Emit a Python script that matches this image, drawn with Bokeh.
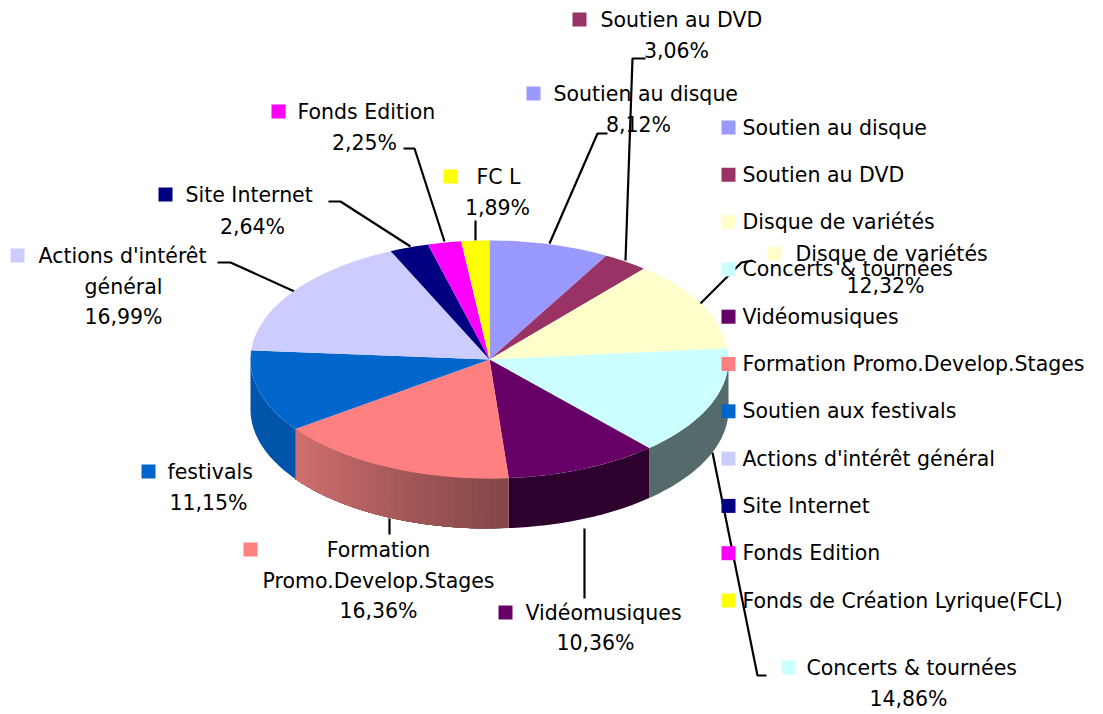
import math
from bokeh.plotting import figure
from bokeh.embed import file_html
from bokeh.resources import INLINE
from bokeh.core.properties import value

# ---- data ----
categories = ["Soutien au disque", "Soutien au DVD", "Disque de variétés", "Concerts & tournées",
              "Vidéomusiques", "Formation Promo.Develop.Stages", "Soutien aux festivals",
              "Actions d'intérêt général", "Site Internet", "Fonds Edition",
              "Fonds de Création Lyrique(FCL)"]
values = [8.12, 3.06, 12.32, 14.86, 10.36, 16.36, 11.15, 16.99, 2.64, 2.25, 1.89]
colors = ["#9999FF", "#993366", "#FFFFCC", "#CCFFFF", "#660066", "#FF8080", "#0066CC",
          "#CCCCFF", "#000080", "#FF00FF", "#FFFF00"]
side_left = ["#737399", "#732650", "#999980", "#556B6B", "#2E002E", "#D27070", "#0055AB",
             "#9999BF", "#000060", "#BF00BF", "#BFBF00"]
side_right = list(side_left)
side_right[5] = "#824646"
data_names = [["Soutien au disque"], ["Soutien au DVD"], ["Disque de variétés"], ["Concerts & tournées"],
              ["Vidéomusiques"], ["Formation", "Promo.Develop.Stages"], ["festivals"],
              ["Actions d'intérêt", "général"], ["Site Internet"], ["Fonds Edition"], ["FC L"]]

# ---- layout (page pixels) ----
FONT = "DejaVu Sans"
FS = "20.5px"
CX, CY, RX, RY, DEPTH = 489, 359, 239, 119, 50
LEG_X, LEG_Y0, LEG_DY = 728, 127, 47.3
# swatch x, first line y, name left x (or None = centred), value centre x, value y
label_pos = [
    (533, 93, 553, 638, 124), (579, 19, 600, 676, 50), (774, 253, 795, 885, 285),
    (788, 667, 806, 908, 698), (505, 612, 525, 595, 642), (250, 549, None, 378, 610),
    (148, 471, 167, 208, 502), (17, 255, 38, 123, 316), (165, 194, 185, 252, 226),
    (278, 111, 297, 364, 142), (450, 176, 476, 497, 207),
]
leaders = [
    ([549, 597, 607], [243, 133, 133]), ([625, 632, 645], [260, 58, 58]),
    ([700, 741, 752], [303, 262, 260]), ([712, 757, 766], [452, 675, 675]),
    ([584, 584], [528, 598]), ([389, 389], [518, 534]),
    ([217, 230, 294], [262, 262, 291]), ([328, 340, 410], [201, 201, 246]),
    ([403, 414, 444], [148, 148, 241]), ([475, 475], [220, 240]),
]

p = figure(width=1103, height=714, x_range=(0, 1103), y_range=(714, 0),
           output_backend="svg", toolbar_location=None, min_border=0)
p.axis.visible = False
p.grid.visible = False
p.outline_line_color = None


def pt(theta, dy=0.0):
    return CX + RX * math.sin(theta), CY - RY * math.cos(theta) + dy


def mix(a, b, t):
    ca = [int(a[i:i + 2], 16) for i in (1, 3, 5)]
    cb = [int(b[i:i + 2], 16) for i in (1, 3, 5)]
    return "#%02x%02x%02x" % tuple(round(x + (y - x) * t) for x, y in zip(ca, cb))


for xs, ys in leaders:
    p.line(xs, ys, line_color="black", line_width=2.2)

# slice extents from the values
total = sum(values)
angles = []
acc = 0.0
for v in values:
    angles.append((acc / total * 2 * math.pi, (acc + v) / total * 2 * math.pi))
    acc += v

# visible side wall
for (a0, a1), cl, cr in zip(angles, side_left, side_right):
    s0, s1 = max(a0, math.pi / 2), min(a1, 3 * math.pi / 2)
    if s1 <= s0:
        continue
    n = 40 if cl != cr else 1
    # paint from the far end back so each strip overlaps its neighbour
    for k in range(n):
        t0 = s0 + (s1 - s0) * k / n
        t1 = s1
        th = [t0 + (t1 - t0) * j / 40 for j in range(41)]
        top = [pt(t) for t in th]
        bot = [pt(t, DEPTH) for t in reversed(th)]
        # pink wall brightens toward the left, i.e. as the angle grows
        c = mix(cr, cl, (k + 0.5) / n)
        p.patch([q[0] for q in top + bot], [q[1] for q in top + bot],
                fill_color=c, line_color=None)

# top face
for (a0, a1), c in zip(angles, colors):
    n = max(4, int((a1 - a0) * 40))
    arc = [pt(a0 + (a1 - a0) * j / n) for j in range(n + 1)]
    p.patch([CX] + [q[0] for q in arc], [CY] + [q[1] for q in arc], fill_color=c, line_color=None)

# data labels
text_kw = dict(text_font=value(FONT), text_font_size=value(FS), text_color="black", text_baseline="middle")
for name, v, c, (sx, sy, tx, vx, vy) in zip(data_names, values, colors, label_pos):
    p.rect([sx], [sy], width=14, height=14, fill_color=c, line_color=None)
    for i, line in enumerate(name):
        y = sy + i * 31
        if tx is None or i > 0:
            p.text([vx], [y], text=[line], text_align="center", **text_kw)
        else:
            p.text([tx], [y], text=[line], text_align="left", **text_kw)
    p.text([vx], [vy], text=[f"{v:.2f}%".replace(".", ",")], text_align="center", **text_kw)

# legend
for i, (name, c) in enumerate(zip(categories, colors)):
    y = LEG_Y0 + i * LEG_DY
    p.rect([LEG_X], [y], width=14, height=14, fill_color=c, line_color=None)
    p.text([742], [y], text=[name], text_align="left", **text_kw)

open("out.html", "w").write(file_html(p, INLINE))
